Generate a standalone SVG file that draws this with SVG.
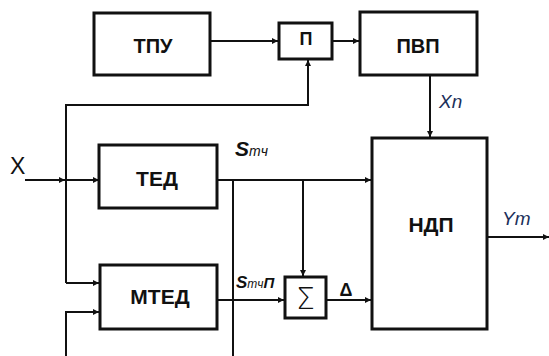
<svg xmlns="http://www.w3.org/2000/svg" width="549" height="356" viewBox="0 0 549 356">
<defs>
<marker id="ah" viewBox="0 0 10 10" refX="10" refY="5" markerWidth="8" markerHeight="6" markerUnits="userSpaceOnUse" orient="auto">
<path d="M0,0 L10,5 L0,10 z" fill="#111"/>
</marker>
<style>
.box{fill:#fff;stroke:#111;stroke-width:3}
.lbl{font-family:"Liberation Sans",Arial,sans-serif;font-weight:bold;fill:#111;text-anchor:middle}
.ln{fill:none;stroke:#111;stroke-width:2}
.arr{marker-end:url(#ah)}
.sig{font-family:"Liberation Sans",Arial,sans-serif;font-style:italic;fill:#1c2f5a}
.s{font-family:"Liberation Sans",Arial,sans-serif;font-style:italic;font-weight:bold;fill:#111}
</style>
</defs>
<rect width="549" height="356" fill="#fff"/>
<g id="connectors">
<path class="ln arr" d="M211,41 H278"/>
<path class="ln arr" d="M332,41 H359"/>
<path class="ln arr" d="M430,75 V137"/>
<path class="ln arr" d="M25,180 H65"/>
<path class="ln arr" d="M66,180 H99"/>
<path class="ln arr" d="M66,283 V105 H308 V60"/>
<path class="ln arr" d="M66,283 H99"/>
<path class="ln arr" d="M66,356 V312 H99"/>
<path class="ln arr" d="M217,180 H371"/>
<path class="ln" d="M233,180 V356"/>
<path class="ln arr" d="M303,180 V276"/>
<path class="ln arr" d="M217,300 H284"/>
<path class="ln arr" d="M326,300 H371"/>
<path class="ln arr" d="M487,237 H549"/>
</g>
<g id="tpu"><rect class="box" x="94" y="13" width="116" height="62"/><text class="lbl" x="153" y="53" font-size="20">ТПУ</text></g>
<g id="p"><rect class="box" x="279" y="23" width="53" height="36"/><text class="lbl" x="306" y="45" font-size="18">П</text></g>
<g id="pvp"><rect class="box" x="360" y="12" width="117" height="63"/><text class="lbl" x="418" y="53" font-size="20">ПВП</text></g>
<g id="ted"><rect class="box" x="99" y="145" width="118" height="63"/><text class="lbl" x="157" y="186" font-size="21">ТЕД</text></g>
<g id="mted"><rect class="box" x="100" y="265" width="117" height="64"/><text class="lbl" x="160" y="304" font-size="21">МТЕД</text></g>
<g id="sum"><rect class="box" x="285" y="277" width="41" height="41"/><text x="305.5" y="309" font-family="DejaVu Sans,sans-serif" font-weight="300" font-size="30" text-anchor="middle" fill="#111">Σ</text></g>
<g id="ndp"><rect class="box" x="372" y="138" width="115" height="191"/><text class="lbl" x="431" y="232" font-size="21">НДП</text></g>
<g id="labels">
<text x="10" y="174" font-family="Liberation Sans,Arial,sans-serif" font-size="23" fill="#111">X</text>
<text class="s" x="235" y="156" font-size="21">S<tspan font-size="14" font-weight="normal">тч</tspan></text>
<text class="s" x="236" y="288" font-size="17">S<tspan font-size="12" font-weight="normal">тч</tspan><tspan font-size="15">П</tspan></text>
<text x="346" y="296" font-family="Liberation Sans,Arial,sans-serif" font-weight="bold" font-size="18" text-anchor="middle" fill="#111">Δ</text>
<text class="sig" x="439" y="108" font-size="19">Xn</text>
<text class="sig" x="502" y="225" font-size="19">Ym</text>
</g>
</svg>
